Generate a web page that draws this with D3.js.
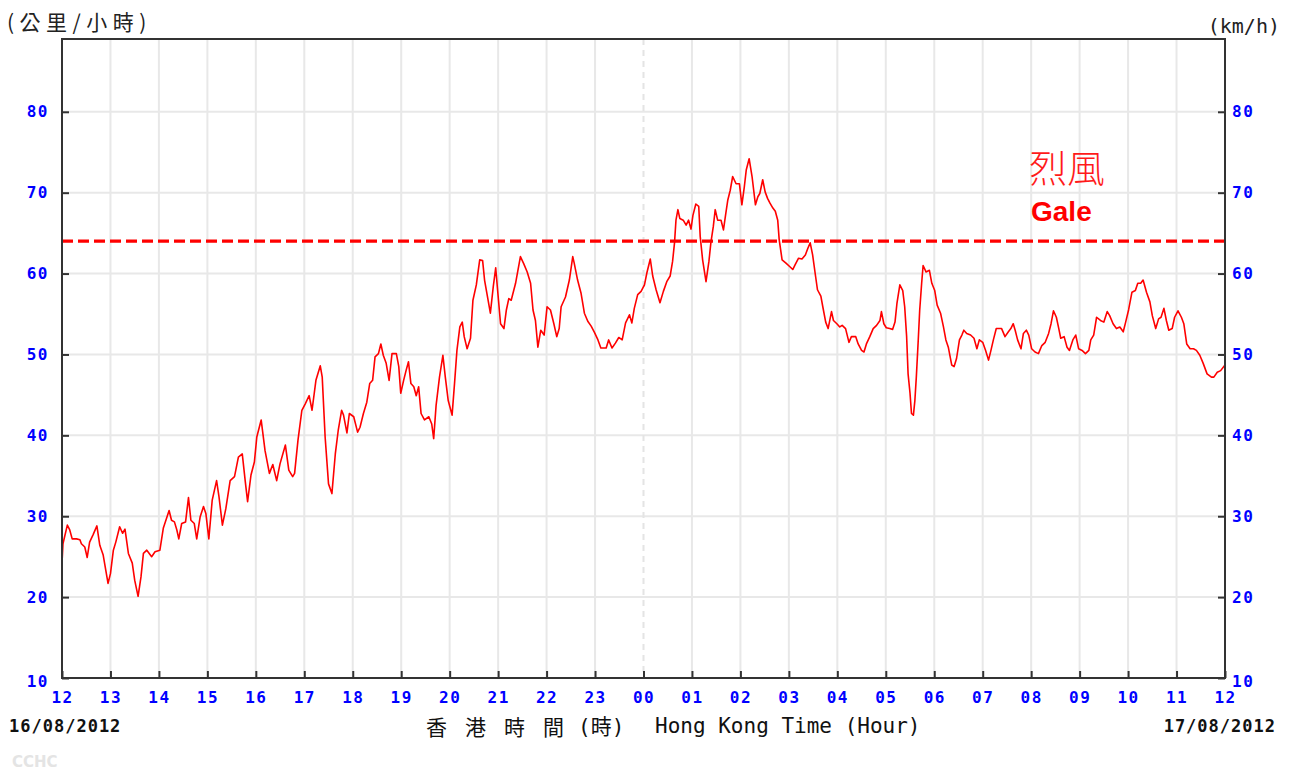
<!DOCTYPE html>
<html><head><meta charset="utf-8">
<script src="https://cdn.jsdelivr.net/npm/d3@7"></script>
<style>body{margin:0;background:#fff} svg{display:block}</style>
</head><body>
<svg id="chart" width="1297" height="771"></svg>
<script>
// Hour of day (12 = 12:00 on 16/08/2012, 36 = 12:00 on 17/08/2012)
const hours = [12.00,12.02,12.11,12.16,12.21,12.30,12.37,12.40,12.47,12.52,12.57,12.64,12.72,12.78,12.85,12.95,13.00,13.06,13.11,13.19,13.25,13.30,13.37,13.45,13.50,13.57,13.63,13.68,13.75,13.85,13.92,
14.02,14.09,14.21,14.26,14.32,14.37,14.41,14.47,14.55,14.61,14.66,14.73,14.78,14.85,14.92,14.97,15.03,15.10,15.19,15.24,15.31,15.38,15.47,15.56,15.64,15.72,15.78,15.83,15.90,15.97,
16.02,16.11,16.19,16.28,16.35,16.43,16.50,16.61,16.68,16.76,16.80,16.87,16.95,17.02,17.10,17.16,17.24,17.33,17.37,17.43,17.50,17.57,17.64,17.70,17.77,17.81,17.88,17.93,18.02,
18.10,18.15,18.22,18.29,18.35,18.41,18.46,18.53,18.58,18.63,18.69,18.75,18.81,18.90,18.95,18.99,19.05,19.10,19.15,19.20,19.26,19.31,19.36,19.41,19.48,19.57,19.63,19.67,19.72,19.79,19.86,19.91,19.97,
20.05,20.10,20.15,20.21,20.26,20.30,20.36,20.43,20.48,20.55,20.62,20.68,20.72,20.77,20.84,20.90,20.95,20.99,21.05,21.12,21.17,21.22,21.27,21.36,21.46,21.53,21.60,21.67,21.72,21.77,21.82,21.88,21.95,
22.01,22.08,22.15,22.21,22.26,22.30,22.39,22.47,22.54,22.57,22.64,22.71,22.78,22.85,22.92,22.99,23.06,23.12,23.23,23.28,23.35,23.42,23.49,23.56,23.63,23.71,23.76,23.81,23.88,23.95,
24.02,24.07,24.14,24.19,24.26,24.34,24.41,24.48,24.55,24.60,24.64,24.67,24.71,24.75,24.82,24.88,24.93,24.98,25.02,25.08,25.14,25.17,25.22,25.29,25.35,25.39,25.44,25.48,25.53,25.60,25.65,25.70,25.74,25.79,25.84,25.91,25.98,
26.03,26.08,26.12,26.18,26.24,26.31,26.36,26.40,26.46,26.51,26.56,26.61,26.67,26.72,26.77,26.80,26.86,26.94,27.01,27.08,27.13,27.20,27.27,27.34,27.39,27.44,27.49,27.55,27.59,27.66,27.70,27.76,27.81,27.88,27.92,27.99,
28.05,28.10,28.17,28.24,28.29,28.38,28.43,28.50,28.55,28.60,28.67,28.74,28.81,28.88,28.91,28.96,29.01,29.08,29.14,29.19,29.23,29.29,29.35,29.39,29.43,29.46,29.50,29.53,29.57,29.60,29.63,29.67,29.70,29.74,29.77,29.83,29.90,29.95,
30.01,30.06,30.13,30.19,30.24,30.29,30.36,30.41,30.46,30.52,30.57,30.61,30.67,30.75,30.82,30.88,30.93,31.00,31.06,31.12,31.17,31.22,31.28,31.39,31.46,31.53,31.58,31.63,31.67,31.72,31.79,31.84,31.90,31.95,
32.01,32.08,32.15,32.22,32.29,32.36,32.41,32.46,32.52,32.57,32.61,32.68,32.74,32.79,32.86,32.92,32.98,33.05,33.12,33.19,33.23,33.29,33.35,33.43,33.50,33.57,33.62,33.69,33.76,33.83,33.90,33.95,
34.01,34.08,34.15,34.20,34.26,34.31,34.38,34.45,34.50,34.57,34.63,34.68,34.74,34.79,34.84,34.91,34.96,35.03,35.10,35.15,35.21,35.28,35.35,35.41,35.48,35.55,35.63,35.72,35.77,35.84,35.91,36.00];

// 10-minute mean wind speed (km/h)
const speeds = [24.2,26.6,28.9,28.3,27.2,27.2,27.1,26.6,26.2,24.9,26.8,27.7,28.8,26.4,25.2,21.7,22.9,25.8,26.8,28.7,27.9,28.4,25.4,24.2,22.1,20.1,22.5,25.4,25.8,25.0,25.6,
25.8,28.5,30.7,29.5,29.3,28.3,27.2,29.1,29.3,32.3,29.5,29.1,27.2,29.9,31.2,30.3,27.2,32.0,34.4,32.4,28.9,30.9,34.4,34.9,37.3,37.7,34.4,31.8,35.1,36.7,
39.8,41.9,38.1,35.3,36.4,34.4,36.5,38.8,35.7,34.9,35.3,39.4,43.1,43.9,44.9,43.1,46.8,48.6,47.2,39.8,34.0,32.8,37.7,40.6,43.1,42.5,40.3,42.7,42.3,
40.4,41.0,42.7,44.1,46.4,46.8,49.7,50.1,51.3,49.9,48.9,46.8,50.1,50.1,48.5,45.2,46.8,48.0,49.1,46.4,46.0,44.9,46.0,42.7,41.9,42.3,41.4,39.6,43.7,47.2,49.9,47.2,44.3,
42.5,46.4,50.5,53.4,54.0,52.2,50.7,52.0,56.7,58.6,61.7,61.6,59.2,57.5,55.1,58.4,60.7,57.9,53.8,53.2,55.5,56.9,56.7,58.8,62.1,61.2,60.2,58.8,55.5,54.2,50.9,53.0,52.4,
55.9,55.5,53.8,52.2,53.2,55.9,57.1,59.2,62.1,61.3,59.2,57.6,55.1,54.1,53.5,52.7,51.8,50.8,50.8,51.8,50.8,51.4,52.1,51.8,53.9,54.9,53.9,55.7,57.4,57.8,
58.6,60.1,61.8,59.7,58.0,56.4,57.8,59.0,59.7,61.5,63.8,66.6,67.9,66.8,66.6,66.0,66.6,65.5,67.2,68.6,68.3,64.6,61.7,59.0,61.5,63.8,65.8,67.9,66.6,66.6,65.4,67.5,69.1,70.3,72.0,71.1,71.1,
68.5,70.7,72.8,74.2,72.0,68.5,69.5,69.9,71.6,70.1,69.3,68.7,68.1,67.7,66.6,64.2,61.7,61.3,60.9,60.5,61.1,61.9,61.8,62.3,63.1,63.8,62.3,59.7,58.0,57.2,55.9,54.0,53.2,55.3,54.2,53.8,
53.4,53.6,53.2,51.5,52.2,52.2,51.3,50.5,50.3,51.3,52.2,53.2,53.6,54.2,55.3,53.8,53.3,53.2,53.1,54.0,56.3,58.6,57.9,55.9,52.2,47.6,45.2,42.7,42.5,44.3,47.2,51.8,55.5,58.8,61.0,60.2,60.4,58.8,
57.9,56.1,55.1,53.4,51.8,50.9,48.7,48.5,49.5,51.8,52.4,53.0,52.6,52.4,52.0,50.7,51.8,51.5,50.5,49.3,50.5,51.8,53.2,53.2,52.2,52.8,53.2,53.8,53.0,51.8,50.7,52.6,53.0,52.4,
50.7,50.3,50.1,51.1,51.5,52.6,53.8,55.4,54.6,53.2,52.0,52.2,50.9,50.5,51.8,52.4,50.7,50.5,50.1,50.5,51.8,52.4,54.6,54.2,54.0,55.3,54.8,53.8,53.2,53.4,52.8,54.0,
55.5,57.7,57.9,58.8,58.8,59.2,57.7,56.5,54.8,53.2,54.4,54.6,55.7,54.2,53.0,53.2,54.6,55.4,54.6,53.8,51.3,50.7,50.7,50.5,49.9,48.9,47.6,47.2,47.2,47.8,48.0,48.7];

const yTicks = [10,20,30,40,50,60,70,80];
const xTicks = d3.range(12,37);
const xTickLabels = ["12","13","14","15","16","17","18","19","20","21","22","23","00","01","02","03","04","05","06","07","08","09","10","11","12"];
const galeLevel = 64;
const labels = {
  unitZh:"(公里/小時)", unitEn:"(km/h)",
  dateStart:"16/08/2012", dateEnd:"17/08/2012",
  axisZh:"香港時間", axisZhUnit:"(時)", axisEn:"Hong Kong Time (Hour)",
  galeZh:"烈風", galeEn:"Gale", credit:"CCHC"
};

const svg = d3.select("#chart");
const L = 62, R = 1225, T = 39, B = 678;
const x = d3.scaleLinear().domain([12,36]).range([L,R]);
const y = d3.scaleLinear().domain([10,89]).range([B,T]);

// Grid
const grid = svg.append("g");
grid.selectAll("line.h").data(yTicks.filter(v=>v>10)).join("line")
  .attr("x1",L).attr("x2",R).attr("y1",d=>y(d)).attr("y2",d=>y(d))
  .attr("stroke","#e8e8e8").attr("stroke-width",2);
grid.selectAll("line.v").data(xTicks.filter(v=>v>12&&v<36)).join("line")
  .attr("y1",T).attr("y2",B).attr("x1",d=>x(d)).attr("x2",d=>x(d))
  .attr("stroke",d=>d===24?"#e4e4e4":"#e8e8e8").attr("stroke-width",2)
  .attr("stroke-dasharray",d=>d===24?"6,5":null);

// Gale threshold
svg.append("line").attr("x1",L).attr("x2",R).attr("y1",y(galeLevel)).attr("y2",y(galeLevel))
  .attr("stroke","#ff0000").attr("stroke-width",3.2).attr("stroke-dasharray","11,5");

// Wind line
const pts = hours.map((h,i)=>[h,speeds[i]]);
svg.append("path").datum(pts)
  .attr("fill","none").attr("stroke","#ff0000").attr("stroke-width",1.6).attr("stroke-linejoin","round")
  .attr("d",d3.line().x(d=>x(d[0])).y(d=>y(d[1])));

// Axes
const tickFont = g => g.selectAll("text")
  .attr("font-family","'DejaVu Sans Mono', monospace").attr("font-weight","bold")
  .attr("font-size",16).attr("fill","#0000ff").attr("letter-spacing",1.5);
const styleAxis = g => { g.select(".domain").remove(); g.selectAll("line").attr("stroke","#333").attr("stroke-width",2); tickFont(g); };

svg.append("g").attr("transform",`translate(${L},0)`)
  .call(d3.axisLeft(y).tickValues(yTicks).tickSize(-7).tickPadding(13).tickFormat(d3.format("d")))
  .call(styleAxis);
svg.append("g").attr("transform",`translate(${R},0)`)
  .call(d3.axisRight(y).tickValues(yTicks).tickSize(-7).tickPadding(7).tickFormat(d3.format("d")))
  .call(styleAxis);
svg.append("g").attr("transform",`translate(0,${B})`)
  .call(d3.axisBottom(x).tickValues(xTicks).tickSize(-7).tickPadding(14).tickFormat((d,i)=>xTickLabels[i]))
  .call(styleAxis);
svg.selectAll("g.tick").filter(d=>d===10).selectAll("text").attr("dy","0.5em");

// Frame
svg.append("rect").attr("x",L).attr("y",T).attr("width",R-L).attr("height",B-T)
  .attr("fill","none").attr("stroke","#333").attr("stroke-width",2);

// Texts
const txt = (s,xx,yy,opt={}) => svg.append("text").text(s).attr("x",xx).attr("y",yy)
  .attr("font-family",opt.ff||"'DejaVu Sans Mono', monospace").attr("font-size",opt.fs||16)
  .attr("font-weight",opt.fw||"normal").attr("fill",opt.fill||"#111")
  .attr("text-anchor",opt.anchor||"start").attr("letter-spacing",opt.ls||0);

txt(labels.unitZh,7,30,{ff:"'Noto Sans CJK TC', sans-serif",fs:21,ls:5.5,fill:"#222"});
txt(labels.unitEn,1280,33,{fs:20,anchor:"end",fill:"#222"});
txt(labels.dateStart,9,732,{fs:17,fw:"bold",ls:1});
txt(labels.dateEnd,1276,732,{fs:17,fw:"bold",ls:1,anchor:"end"});
txt(labels.axisZh,426,735,{ff:"'Noto Sans CJK TC', sans-serif",fs:21,ls:18});
txt(labels.axisZhUnit,578,734,{ff:"'DejaVu Sans Mono','Noto Sans CJK TC', monospace",fs:21});
txt(labels.axisEn,655,733,{fs:21});
txt(labels.galeZh,1029,182,{ff:"'Noto Sans CJK TC', sans-serif",fs:38,fw:300,fill:"#ff1a1a"});
txt(labels.galeEn,1031,221,{ff:"'Liberation Sans', Arial, sans-serif",fs:28,fw:"bold",fill:"#ff0000"});
txt(labels.credit,12,767,{ff:"'DejaVu Sans', sans-serif",fs:15,fw:"bold",fill:"#e4e4e4"});
</script>
</body></html>
